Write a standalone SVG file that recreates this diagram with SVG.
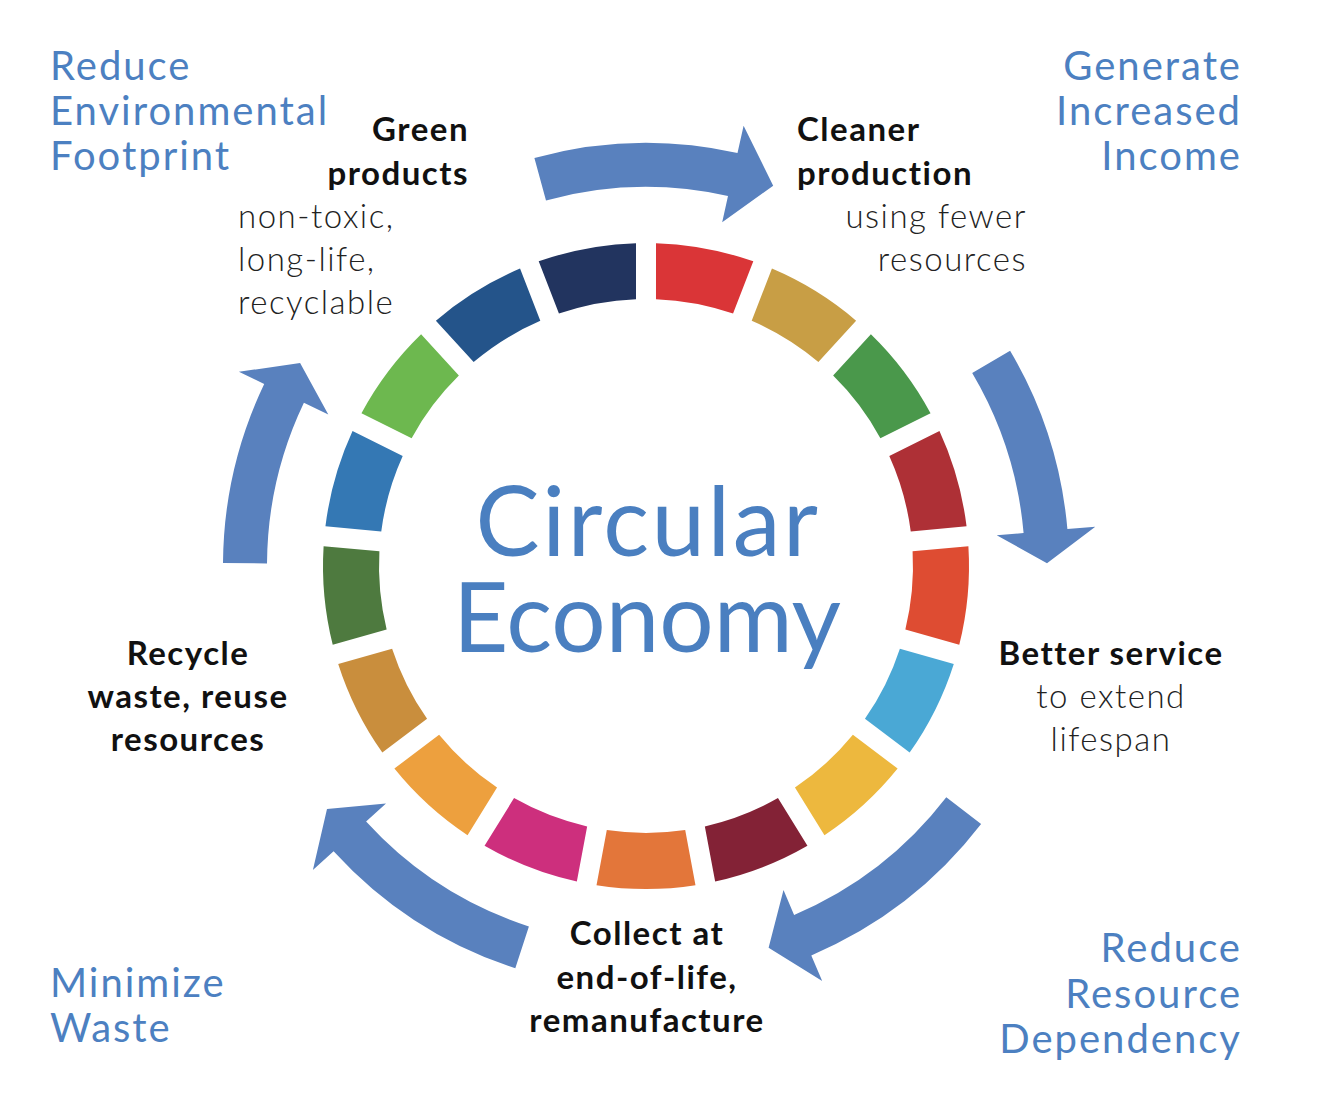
<svg xmlns="http://www.w3.org/2000/svg" xmlns:xlink="http://www.w3.org/1999/xlink" width="1322" height="1110" viewBox="0 0 1322 1110">
<style>
.arrow{fill:#5981BE}
.goal{font-family:Lato,"Open Sans","Liberation Sans",sans-serif;font-size:40px;letter-spacing:2px;fill:#4C80C1}
.title{font-family:Lato,"Open Sans","Liberation Sans",sans-serif;font-size:96px;fill:#4A7FC0}
.hd{font-family:Lato,"Open Sans","Liberation Sans",sans-serif;font-size:33px;font-weight:700;letter-spacing:1.5px;fill:#111}
.sub{font-family:Lato,"Open Sans","Liberation Sans",sans-serif;font-size:33px;font-weight:300;letter-spacing:1.5px;fill:#222}
</style>
<defs>
<path id="seg" d="M -49.49,-319.19 A 323 323 0 0 1 49.49,-319.19 L 39.20,-264.10 A 267 267 0 0 0 -39.20,-264.10 Z"/>
</defs>
<rect width="1322" height="1110" fill="#fff"/>
<g id="ring" transform="translate(646,566)">
<use xlink:href="#seg" href="#seg" fill="#DA3537" transform="rotate(10.588)"/>
<use xlink:href="#seg" href="#seg" fill="#C89E45" transform="rotate(31.765)"/>
<use xlink:href="#seg" href="#seg" fill="#4A984B" transform="rotate(52.941)"/>
<use xlink:href="#seg" href="#seg" fill="#AE3036" transform="rotate(74.118)"/>
<use xlink:href="#seg" href="#seg" fill="#DE4C32" transform="rotate(95.294)"/>
<use xlink:href="#seg" href="#seg" fill="#4AA8D5" transform="rotate(116.471)"/>
<use xlink:href="#seg" href="#seg" fill="#EDB83E" transform="rotate(137.647)"/>
<use xlink:href="#seg" href="#seg" fill="#832236" transform="rotate(158.824)"/>
<use xlink:href="#seg" href="#seg" fill="#E3763A" transform="rotate(180)"/>
<use xlink:href="#seg" href="#seg" fill="#CD2F7D" transform="rotate(201.176)"/>
<use xlink:href="#seg" href="#seg" fill="#EDA03E" transform="rotate(222.353)"/>
<use xlink:href="#seg" href="#seg" fill="#C98E3D" transform="rotate(243.529)"/>
<use xlink:href="#seg" href="#seg" fill="#4E7A3F" transform="rotate(264.706)"/>
<use xlink:href="#seg" href="#seg" fill="#3478B4" transform="rotate(285.882)"/>
<use xlink:href="#seg" href="#seg" fill="#6DB84F" transform="rotate(307.059)"/>
<use xlink:href="#seg" href="#seg" fill="#24548A" transform="rotate(328.235)"/>
<use xlink:href="#seg" href="#seg" fill="#22345F" transform="rotate(349.412)"/>
</g>
<g id="connectors">
<path class="arrow" d="M 534.4,158.0 A 423 423 0 0 1 737.5,153.0 L 743.6,125.7 L 773.2,185.7 L 722.2,222.3 L 728.0,196.0 A 379 379 0 0 0 546.0,200.4 Z"/>
<path class="arrow" d="M 1010.1,350.7 A 423 423 0 0 1 1067.4,529.1 L 1095.3,526.7 L 1047.0,563.2 L 996.7,535.3 L 1023.6,533.0 A 379 379 0 0 0 972.2,373.1 Z"/>
<path class="arrow" d="M 981.1,824.1 A 423 423 0 0 1 811.3,955.4 L 822.2,981.1 L 768.6,947.8 L 783.5,890.0 L 794.1,914.9 A 379 379 0 0 0 946.3,797.2 Z"/>
<path class="arrow" d="M 515.3,968.3 A 423 423 0 0 1 333.6,851.2 L 312.9,870.1 L 327.0,809.0 L 386.0,803.4 L 366.1,821.6 A 379 379 0 0 0 528.9,926.5 Z"/>
<path class="arrow" d="M 223.0,563.0 A 423 423 0 0 1 264.2,383.9 L 238.9,371.8 L 300.1,363.1 L 328.3,414.5 L 303.9,402.8 A 379 379 0 0 0 267.0,563.4 Z"/>
</g>
<g id="center">
<text class="title" x="648" y="556" text-anchor="middle" letter-spacing="2.5">Circular</text>
<text class="title" x="647" y="652" text-anchor="middle">Economy</text>
</g>
<g id="goal-env">
<text class="goal" x="50" y="80">Reduce</text>
<text class="goal" x="50" y="125">Environmental</text>
<text class="goal" x="50" y="170">Footprint</text>
</g>
<g id="goal-income">
<text class="goal" x="1242" y="80" text-anchor="end">Generate</text>
<text class="goal" x="1242" y="125" text-anchor="end">Increased</text>
<text class="goal" x="1242" y="170" text-anchor="end">Income</text>
</g>
<g id="goal-waste">
<text class="goal" x="50" y="997">Minimize</text>
<text class="goal" x="50" y="1042">Waste</text>
</g>
<g id="goal-resource">
<text class="goal" x="1242" y="962" text-anchor="end">Reduce</text>
<text class="goal" x="1242" y="1008" text-anchor="end">Resource</text>
<text class="goal" x="1242" y="1053" text-anchor="end">Dependency</text>
</g>
<g id="green-products">
<text class="hd" x="469" y="141" text-anchor="end">Green</text>
<text class="hd" x="469" y="185" text-anchor="end">products</text>
<text class="sub" x="238" y="228">non-toxic,</text>
<text class="sub" x="238" y="271">long-life,</text>
<text class="sub" x="238" y="314">recyclable</text>
</g>
<g id="cleaner-production">
<text class="hd" x="797" y="141">Cleaner</text>
<text class="hd" x="797" y="185">production</text>
<text class="sub" x="1027" y="228" text-anchor="end">using fewer</text>
<text class="sub" x="1027" y="271" text-anchor="end">resources</text>
</g>
<g id="better-service">
<text class="hd" x="1111" y="665" text-anchor="middle">Better service</text>
<text class="sub" x="1111" y="708" text-anchor="middle">to extend</text>
<text class="sub" x="1111" y="751" text-anchor="middle">lifespan</text>
</g>
<g id="collect">
<text class="hd" x="647" y="945" text-anchor="middle">Collect at</text>
<text class="hd" x="647" y="989" text-anchor="middle">end-of-life,</text>
<text class="hd" x="647" y="1032" text-anchor="middle">remanufacture</text>
</g>
<g id="recycle">
<text class="hd" x="188" y="665" text-anchor="middle">Recycle</text>
<text class="hd" x="188" y="708" text-anchor="middle">waste, reuse</text>
<text class="hd" x="188" y="751" text-anchor="middle">resources</text>
</g>
</svg>
